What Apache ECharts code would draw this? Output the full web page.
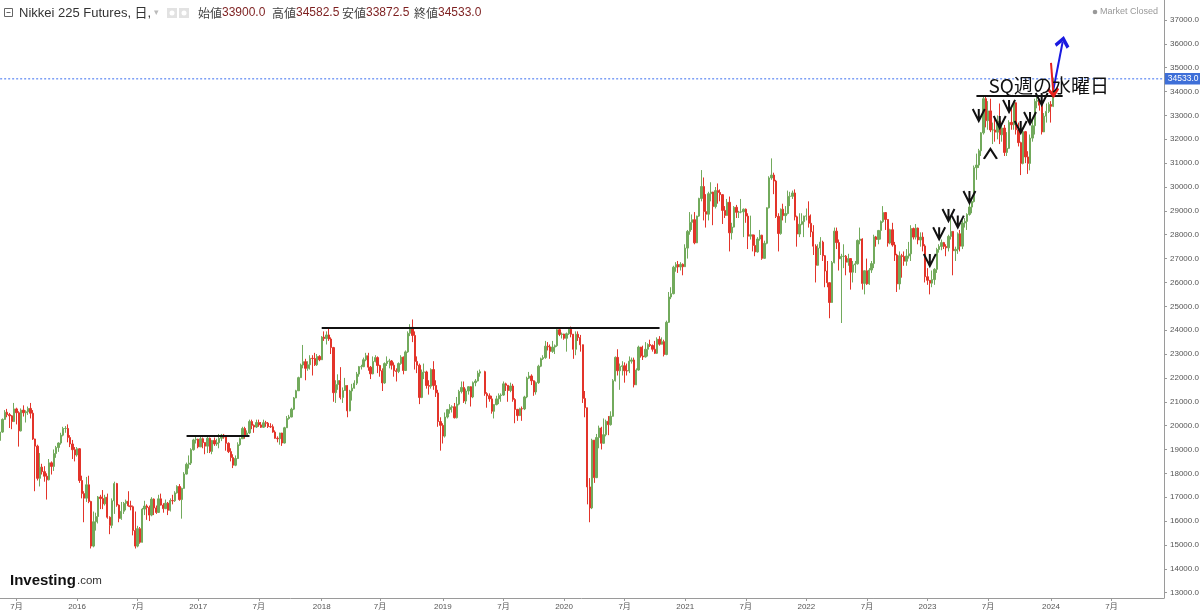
<!DOCTYPE html>
<html><head><meta charset="utf-8">
<script src="https://cdn.jsdelivr.net/npm/echarts@6/dist/echarts.min.js"></script>
<style>html,body{margin:0;padding:0;background:#fff}#c{width:1200px;height:611px}</style>
</head><body><div id="c"></div>
<script>
// weekly candles [open, close, low, high], weeks start Monday 2015-05-11
const w2015=[[19380,19730,19250,19790],[19730,20260,19700,20300],[20260,20560,20250,20650],[20560,20460,20350,20700],[20460,20410,19900,20530],[20410,20170,19850,20440],[20170,20700,20150,20950],[20700,20540,20050,20750],[20540,19780,19120,20600],[19780,20650,19750,20720],[20650,20540,20380,20850],[20540,20580,20130,20640],[20580,20720,20450,20800],[20720,20520,20300,20950],[20520,19440,19400,20650],[19440,19140,17250,19450],[19140,17790,17700,19200],[17790,18260,17450,18850],[18260,18070,17950,18400],[18070,17880,17650,18300],[17880,17730,16900,18000],[17730,18440,17700,18600],[18440,18290,17950,18500],[18290,18830,18100,19000],[18830,19080,18650,19150],[19080,19270,18900,19300],[19270,19600,19200,19700],[19600,19880,19550,19950],[19880,19880,19700,19980],[19880,19500,19300,20050],[19500,19230,19100,19600],[19230,18990,18600,19400],[18990,18770,18500,19100],[18770,19030,18700,19100]];
const w2016=[[19030,17700,17600,19050],[17700,17150,16950,17900],[17150,16960,15950,17250],[16960,17520,16800,17850],[17520,16820,16750,17900],[16820,14950,14850,16850],[14950,15970,14900,16400],[15970,16190,15600,16350],[16190,17010,15900,17050],[17010,16940,16500,17100],[16940,16720,16500,17300],[16720,17000,16650,17100],[17000,16160,16100,17150],[16160,15820,15450,16200],[15820,16850,15700,16950],[16850,17570,16300,17650],[17570,16670,16600,17600],[16670,16110,15950,16700],[16110,16410,16050,16800],[16410,16740,16300,16800],[16740,16830,16450,16900],[16830,16640,16600,17250],[16640,16600,16450,16850],[16600,15600,15400,16650],[15600,14950,14850,16400],[14950,15680,14900,15800],[15680,15110,15050,15750],[15110,16500,15100,16550],[16500,16630,16250,16850],[16630,16570,16050,16700],[16570,16250,16000,16650],[16250,16920,16200,17000],[16920,16550,16250,16950],[16550,16360,16300,16650],[16360,16930,16350,17100],[16930,16670,16650,17150],[16670,16520,16350,16750],[16520,16750,16500,16900],[16750,16450,16250,16800],[16450,16860,16400,16950],[16860,16850,16700,17100],[16850,17180,16800,17250],[17180,17450,17150,17500],[17450,16900,16850,17550],[16900,17370,16100,17400],[17370,17970,17350,18050],[17970,18380,17950,18450],[18380,18430,18200,18750],[18430,18990,18350,19050],[18990,19400,18950,19450],[19400,19430,19250,19600],[19430,19110,19050,19450]];
const w2017=[[19110,19450,19100,19600],[19450,19290,19050,19500],[19290,19140,18800,19300],[19140,19470,18850,19550],[19470,18920,18850,19500],[18920,19380,18800,19400],[19380,19230,19150,19500],[19230,19280,19150,19450],[19280,19470,19050,19650],[19470,19600,19350,19650],[19600,19520,19450,19650],[19520,19260,18950,19550],[19260,18910,18850,19300],[18910,18660,18500,19050],[18660,18340,18220,18800],[18340,18620,18300,18750],[18620,19200,18600,19300],[19200,19450,19150,19500],[19450,19880,19450,19950],[19880,19590,19450,19950],[19590,19690,19550,19800],[19690,20170,19650,20250],[20170,20010,19850,20250],[20010,19940,19700,20050],[19940,20130,19900,20250],[20130,20030,19950,20250],[20030,19930,19900,20150],[19930,20120,19900,20250],[20120,20100,19950,20200],[20100,19960,19900,20150],[19960,19950,19900,20100],[19950,19730,19700,20050],[19730,19470,19450,19800],[19470,19450,19300,19550],[19450,19690,19200,19700],[19690,19270,19150,19700],[19270,19910,19250,19950],[19910,20300,19900,20400],[20300,20360,20250,20450],[20360,20690,20350,20750],[20690,21160,20650,21200],[21160,21460,21150,21500],[21460,22010,21450,22050],[22010,22540,22000,22600],[22540,22680,22400,23380],[22680,22400,21900,22800],[22400,22550,22300,22700],[22550,22820,22350,22950],[22820,22810,22100,22950],[22810,22550,22500,23050],[22550,22900,22500,23000],[22900,22760,22700,22950]];
const w2018=[[22760,23710,22750,23750],[23710,23650,23550,23950],[23650,23800,23400,23950],[23800,23630,23550,24130],[23630,23270,23000,23700],[23270,21380,21000,23300],[21380,21720,20950,21900],[21720,21890,21500,22150],[21890,21180,21100,22450],[21180,21470,20950,21600],[21470,21680,21450,22000],[21680,20620,20350,21700],[20620,21450,20600,21500],[21450,21570,21050,21750],[21570,21780,21550,21900],[21780,22160,21700,22250],[22160,22470,22050,22500],[22470,22470,22350,22550],[22470,22760,22450,22850],[22760,22930,22700,23050],[22930,22450,22300,23050],[22450,22170,21950,22500],[22170,22690,22150,22900],[22690,22850,22650,22950],[22850,22520,22200,22900],[22520,22300,22050,22550],[22300,21790,21450,22400],[21790,22600,21750,22650],[22600,22700,22500,22900],[22700,22710,22400,22800],[22710,22530,22350,22750],[22530,22300,22050,22650],[22300,22270,21850,22400],[22270,22600,22200,22650],[22600,22870,22550,22950],[22870,22310,22150,22900],[22310,23090,22300,23150],[23090,23870,23050,23950],[23870,24120,23750,24250],[24120,23780,23500,24450],[23780,22690,22350,23950],[22690,22530,22200,22900],[22530,21180,20900,22600],[21180,22240,21150,22350],[22240,22250,21950,22600],[22250,21680,21550,22300],[21680,21650,21300,21900],[21650,22350,21550,22400],[22350,21680,21500,22700],[21680,21370,21200,21900],[21370,20170,19950,21500],[20170,20010,18950,20350]];
const w2019=[[20010,19560,19250,20100],[19560,20360,19500,20550],[20360,20670,20300,20700],[20670,20770,20500,20900],[20770,20790,20550,20850],[20790,20330,20300,20950],[20330,20900,20300,21200],[20900,21430,20850,21500],[21430,21600,21350,21850],[21600,21030,20950,21850],[21030,21450,20900,21550],[21450,21630,21300,21650],[21630,21200,20800,21650],[21200,21800,21150,21850],[21800,21870,21650,21950],[21870,22200,21850,22300],[22200,22260,22050,22350],'-',[22260,21340,21250,22300],[21340,21250,20750,21400],[21250,21120,21000,21350],[21120,20600,20500,21250],[20600,20880,20300,20900],[20880,21120,20850,21250],[21120,21260,20900,21350],[21260,21280,21000,21350],[21280,21750,21250,21850],[21750,21690,21450,21800],[21690,21470,21000,21700],[21470,21660,21400,21800],[21660,21090,21000,21750],[21090,20680,20100,21150],[20680,20420,20200,20700],[20420,20710,20400,20750],[20710,20700,20200,20800],[20700,21200,20650,21250],[21200,21990,21150,22050],[21990,22080,21950,22250],[22080,21880,21700,22150],[21880,21410,21250,21900],[21410,21800,21300,21850],[21800,22490,21750,22550],[22490,22800,22450,22850],[22800,22850,22750,22950],[22850,23330,22800,23550],[23330,23300,23150,23500],[23300,23110,22800,23400],[23110,23290,23050,23550],[23290,23350,23000,23400],[23350,24020,23300,24050],[24020,23820,23750,24100],[23820,23840,23650,23900]];
const w2020=[[23840,23660,23600,23850],[23660,23850,23100,23900],[23850,24040,23800,24100],[24040,23830,23700,24150],[23830,23200,22800,23450],[23200,23830,22950,23950],[23830,23690,23550,23950],[23690,23390,23100,23800],[23390,21140,20950,23400],[21140,20750,20350,21450],[20750,17430,16700,20750],[17430,16550,15950,17800],[16550,19390,16500,19450],[19390,17820,17600,19400],[17820,19500,17800,19650],[19500,19900,19050,20000],[19900,19260,19000,19950],[19260,19620,19250,20300],[19620,20180,19550,20250],[20180,20040,19600,20400],[20040,20390,20000,20600],[20390,21880,20380,21950],[21880,22860,21850,22900],[22860,22300,22100,23200],[22300,22480,21500,22600],[22480,22510,22100,22700],[22510,22300,21800,22650],[22300,22290,22100,22600],[22290,22700,22200,22900],[22700,22750,22600,22850],[22750,21710,21600,22850],[21710,22330,21700,22400],[22330,23290,22300,23350],[23290,22920,22850,23300],[22920,22880,22750,23350],[22880,23200,22850,23500],[23200,23400,22900,23450],[23400,23360,23300,23600],[23360,23200,23100,23400],[23200,23030,23000,23550],[23030,23620,23000,23700],[23620,23410,23350,23750],[23410,23520,23400,23700],[23520,22980,22900,23600],[22980,24330,22950,24400],[24330,25390,24300,25600],[25390,25530,25300,25800],[25530,26640,25500,26700],[26640,26750,26450,26850],[26750,26650,26400,26900],[26650,26760,26500,26850],[26760,26660,26300,26800],[26660,27440,26650,27600]];
const w2021=[[27440,28140,27000,28200],[28140,28520,28000,28950],[28520,28630,28200,28850],[28630,27660,27600,28950],[27660,28780,27650,28800],[28780,29520,28750,29550],[29520,30020,29400,30710],[30020,28970,28600,30400],[28970,28860,28300,29700],[28860,29720,28600,29800],[29720,29790,29400,30200],[29790,29180,28400,29800],[29180,29850,29100,30000],[29850,29770,29300,30150],[29770,29680,29400,29900],[29680,29020,28450,29700],[29020,28810,28700,29200],[28810,29360,28800,29500],[29360,28080,27300,29600],[28080,28320,27800,28500],[28320,29150,28300,29200],[29150,28940,28700,29250],[28940,28950,28700,29000],[28950,28960,28900,29500],[28960,29070,27900,29100],[29070,28780,28500,29100],[28780,27940,27400,28900],[27940,28000,27800,28800],[28000,27550,27300,28000],[27550,27280,27100,28000],[27280,27820,27250,27900],[27820,27980,27750,28200],[27980,27010,26950,28000],[27010,27640,27000,27750],[27640,29130,27600,29150],[29130,30380,29100,30450],[30380,30500,30300,31200],[30500,30250,29700,30600],[30250,28770,28700,30300],[28770,28050,27300,28900],[28050,29070,28000,29100],[29070,28800,28600,29300],[28800,28890,28500,29200],[28890,29610,28850,29850],[29610,29610,29200,29800],[29610,29750,29500,29850],[29750,28750,28600,29900],[28750,28030,27500,28800],[28030,28440,27900,28900],[28440,28550,28400,28900],[28550,28780,27900,28800],[28780,28790,28600,29100]];
const w2022=[[28790,28480,28300,29400],[28480,28120,27900,28850],[28120,27520,27150,28400],[27520,26720,26000,27600],[26720,27440,26700,27600],[27440,27690,27150,27900],[27690,27120,26900,27750],[27120,26480,25800,27150],[26480,25990,25800,26900],[25990,25160,24500,26000],[25160,26830,25150,26900],[26830,28150,26800,28300],[28150,27670,27400,28300],[27670,26990,26500,27800],[26990,27090,24300,27200],[27090,27100,26600,27600],[27100,26850,26300,27150],[26850,27000,26700,27200],[27000,26430,25700,27000],[26430,26740,26000,26900],[26740,26780,26400,26900],[26780,27760,26750,27800],[27760,27820,27600,28300],[27820,25960,25700,27850],[25960,26490,25500,26500],[26490,25940,25900,27000],[25940,26520,25900,26600],[26520,26790,26400,26900],[26790,27910,26600,28000],[27910,27800,27500,27950],[27800,28180,27600,28200],[28180,28550,27800,28600],[28550,28930,28500,29200],[28930,28640,28200,28950],[28640,27650,27500,28650],[27650,28210,27600,28250],[28210,27570,27500,28500],[27570,27150,26900,27700],[27150,25940,25600,27200],[25940,27120,25700,27300],[27120,27090,26200,27200],[27090,26890,26700,27300],[26890,27110,26700,27400],[27110,27200,27000,27700],[27200,28260,26900,28400],[28260,27900,27800,28300],[27900,28280,27800,28450],[28280,27780,27600,28300],[27780,27900,27500,28100],[27900,27530,27300,28100],[27530,26240,26000,27600],[26240,26090,25900,26600]];
const w2023=[[26090,25970,25500,26100],[25970,26120,25800,26500],[26120,26550,25900,26600],[26550,27380,26400,27450],[27380,27510,27250,27600],[27510,27670,27350,27800],[27670,27510,27400,27700],[27510,27450,27100,27600],[27450,27930,27300,28000],[27930,28140,27800,28700],[28140,27330,26300,28150],[27330,27390,26900,27500],[27390,28040,27200,28100],[28040,27520,27300,28200],[27520,28490,27400,28600],[28490,28560,28300,28700],[28560,28850,28200,28900],[28850,29160,28800,29300],[29160,29390,28900,29500],[29390,30810,29350,30900],[30810,30920,30300,31400],[30920,31520,30800,31600],[31520,32270,31300,32300],[32270,33700,32200,33800],[33700,32780,32500,33800],[32780,33190,32400,33600],[33190,32390,32300,33700],[32390,32390,31800,32700],[32390,32300,31900,32900],[32300,32760,32000,33000],[32760,32190,31800,33500],[32190,32470,31900,32600],[32470,31450,31300,32600],[31450,31620,31300,32300],[31620,32710,31600,32800],[32710,32610,32400,33300],[32610,33530,32400,33600],[33530,32400,32200,33550],[32400,31860,31700,32700],[31860,30990,30500,31900],[30990,32320,30950,32500],[32320,31260,31000,32350],[31260,30990,30550,31500],[30990,32050,30700,32200],[32050,32570,31900,32800],[32570,33590,32200,33700],[33590,33630,33300,33850],[33630,33430,33200,33700],[33430,32310,32200,33500],[32310,32970,32300,33100],[32970,33170,32700,33500],[33170,33460,33100,33550]];
const w2024=[[33460,33380,32700,33600],[33380,34533,33350,34582.5]];

const headerLabels=['始値','高値','安値','終値'];
const headerOHLC=[33900.0,34582.5,33872.5,34533.0];
const yTicks=[13000,14000,15000,16000,17000,18000,19000,20000,21000,22000,23000,24000,25000,26000,27000,28000,29000,30000,31000,32000,33000,34000,35000,36000,37000];
// annotations (date, price)
const levelLines=[['2016-11-27','2017-06-03',19590],['2018-01-01','2020-10-18',24110],['2023-05-25','2024-02-10',33820]];
const downMarks=[['2023-01-05',26944],['2023-02-01',28060],['2023-03-03',28830],['2023-04-02',28550],['2023-05-01',29584],['2023-05-31',33020],['2023-08-05',32726],['2023-08-29',33400],['2023-10-04',32517],['2023-11-03',32894],['2023-12-06',33690]];
const upMarks=[['2023-07-06',31385]];
const blueArrow=[['2024-01-10',34070],['2024-02-08',36080]];
const redArrow=[['2024-01-01',35200],['2024-01-08',33950]];
const noteText=['2023-12-27',34235,'SQ週の水曜日'];

const DAY=86400000, t0=Date.UTC(2015,4,11), weekCount=500;
const categories=[];
for(let i=0;i<weekCount;i++){categories.push(new Date(t0+i*7*DAY).toISOString().slice(0,10));}
function wk(s){const p=s.split('-').map(Number);return Math.floor((Date.UTC(p[0],p[1]-1,p[2])-t0)/(7*DAY));}
function isLabel(i){const d=new Date(t0+i*7*DAY+6*DAY);const m=d.getUTCMonth();return (m===0||m===6)&&d.getUTCDate()<=7;}
function labelFor(v){const d=new Date(Date.parse(v)+6*DAY);return d.getUTCMonth()===0?String(d.getUTCFullYear()):'7月';}

const ohlc=[].concat(w2015,w2016,w2017,w2018,w2019,w2020,w2021,w2022,w2023,w2024);
const lastPrice=ohlc[ohlc.length-1][1];
const UP='#72aa5c', DOWN='#e3342a';
const FONT='"Liberation Sans","Noto Sans CJK JP",sans-serif';
const vPath='path://M0,0 L6,12 L12,0 M6,0 L6,12';
const caretPath='path://M0,11 L6,0 L12,11';
const headPath='path://M10,0 L20,10 L17,13 L10,6 L3,13 L0,10 Z';

const markLines=[];
levelLines.forEach(([a,b,v])=>{
  markLines.push([{coord:[wk(a),v],symbol:'none',lineStyle:{color:'#111',width:2,type:'solid'}},{coord:[wk(b),v],symbol:'none'}]);
});
markLines.push([{coord:[wk(blueArrow[0][0]),blueArrow[0][1]],symbol:'none',lineStyle:{color:'#1a1ae0',width:2,type:'solid'}},
  {coord:[wk(blueArrow[1][0]),blueArrow[1][1]],symbol:headPath,symbolSize:[15,12]}]);
markLines.push([{coord:[wk(redArrow[0][0]),redArrow[0][1]],symbol:'none',lineStyle:{color:'#e8201c',width:2,type:'solid'}},
  {coord:[wk(redArrow[1][0]),redArrow[1][1]],symbol:headPath,symbolSize:[12,11]}]);

const markPoints=[];
downMarks.forEach(([d,v])=>markPoints.push({coord:[wk(d),v],symbol:vPath,symbolSize:[12,12],itemStyle:{color:'rgba(0,0,0,0)',borderColor:'#111',borderWidth:2}}));
upMarks.forEach(([d,v])=>markPoints.push({coord:[wk(d),v],symbol:caretPath,symbolSize:[13,10],itemStyle:{color:'rgba(0,0,0,0)',borderColor:'#111',borderWidth:2}}));
markPoints.push({coord:[wk(noteText[0]),noteText[1]],symbol:'circle',symbolSize:1,itemStyle:{color:'rgba(0,0,0,0)'},
  label:{show:true,position:'inside',formatter:noteText[2],fontSize:19,color:'#111',fontFamily:'"Noto Sans CJK JP","Liberation Sans",sans-serif'}});

const graphics=[
  {type:'rect',shape:{x:4.5,y:8.5,width:8,height:8},style:{fill:'#fff',stroke:'#666',lineWidth:1}},
  {type:'line',shape:{x1:6.5,y1:12.5,x2:10.5,y2:12.5},style:{stroke:'#666',lineWidth:1}},
  {type:'text',x:19,y:13,style:{text:'Nikkei 225 Futures, 日,',font:'13px '+FONT,fill:'#333',verticalAlign:'middle'}},
  {type:'text',x:154,y:13,style:{text:'▾',font:'9px '+FONT,fill:'#bbb',verticalAlign:'middle'}},
  {type:'rect',shape:{x:167,y:8,width:10,height:10},style:{fill:'#e2e2e2'}},
  {type:'circle',shape:{cx:172,cy:13,r:2.5},style:{fill:'#fff'}},
  {type:'rect',shape:{x:179,y:8,width:10,height:10},style:{fill:'#e2e2e2'}},
  {type:'circle',shape:{cx:184,cy:13,r:2.5},style:{fill:'#fff'}},
  {type:'circle',shape:{cx:1095,cy:12,r:2.3},style:{fill:'#999'}},
  {type:'text',x:1100,y:12,style:{text:'Market Closed',font:'9px '+FONT,fill:'#999',verticalAlign:'middle'}},
  {type:'text',x:10,y:588,style:{text:'Investing',font:'bold 15px "Liberation Sans",sans-serif',fill:'#111',verticalAlign:'bottom'}},
  {type:'text',x:77,y:587,style:{text:'.com',font:'11.5px "Liberation Sans",sans-serif',fill:'#333',verticalAlign:'bottom'}}
];
const hx=[198,272,342,414];
headerLabels.forEach((l,i)=>graphics.push({type:'text',x:hx[i],y:13,style:{
  text:'{l|'+l+'}{v|'+headerOHLC[i].toFixed(1)+'}',verticalAlign:'middle',
  rich:{l:{fill:'#444',fontSize:12,fontFamily:'"Noto Sans CJK JP",sans-serif'},v:{fill:'#7d1f1f',fontSize:12,fontFamily:'"Liberation Sans",sans-serif'}}}}));

const chart=echarts.init(document.getElementById('c'),null,{renderer:'canvas'});
chart.setOption({
  animation:false,
  backgroundColor:'#fff',
  grid:{left:-1,right:36,top:0,bottom:13,containLabel:false,outerBoundsMode:'none'},
  xAxis:{type:'category',data:categories,boundaryGap:true,
    axisLine:{lineStyle:{color:'#9a9a9a'}},
    axisTick:{show:true,length:3,interval:isLabel,alignWithLabel:true,lineStyle:{color:'#9a9a9a'}},
    axisLabel:{interval:isLabel,formatter:labelFor,fontSize:8,color:'#555',margin:5,fontFamily:FONT},
    splitLine:{show:false}},
  yAxis:{type:'value',position:'right',min:12775,max:37838,scale:true,
    splitLine:{show:false},
    axisLine:{show:true,lineStyle:{color:'#9a9a9a'}},
    axisTick:{show:true,length:3,customValues:yTicks,lineStyle:{color:'#9a9a9a'}},
    axisLabel:{customValues:yTicks,formatter:v=>Number(v).toFixed(1),fontSize:8,color:'#555',margin:6,fontFamily:FONT}},
  series:[
    {type:'line',silent:true,symbol:'none',z:1,
      data:[[0,lastPrice],[weekCount-1,lastPrice]],
      lineStyle:{color:'#3a6ef0',type:[2,2],width:1},
      itemStyle:{color:'#3a6ef0'},
      endLabel:{show:true,distance:2,formatter:()=>lastPrice.toFixed(1),backgroundColor:'#3e6fd8',color:'#fff',padding:[2,3,1,3],fontSize:8.5,fontFamily:FONT}},
    {type:'candlestick',data:ohlc,barWidth:1.8,z:2,
      itemStyle:{color:UP,color0:DOWN,borderColor:UP,borderColor0:DOWN,borderWidth:1},
      markLine:{silent:true,symbol:['none','none'],label:{show:false},data:markLines,animation:false},
      markPoint:{silent:true,label:{show:false},data:markPoints,animation:false}}
  ],
  graphic:graphics
});
</script></body></html>
